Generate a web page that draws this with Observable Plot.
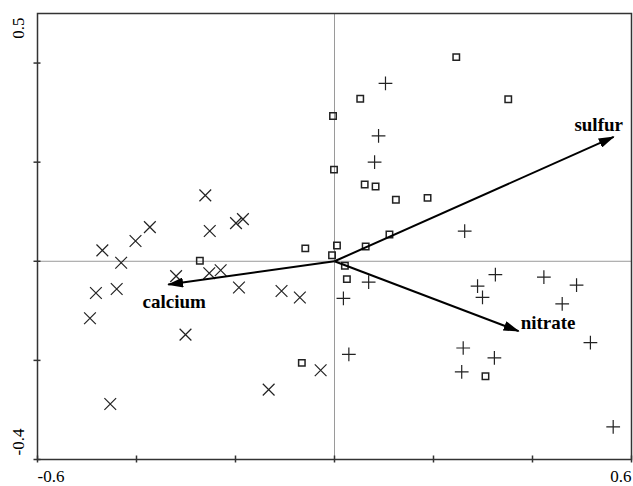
<!DOCTYPE html>
<html>
<head>
<meta charset="utf-8">
<script src="https://cdn.jsdelivr.net/npm/d3@7"></script>
<script src="https://cdn.jsdelivr.net/npm/@observablehq/plot@0.6"></script>
<style>
  html, body { margin: 0; padding: 0; background: #fff; }
  #chart svg { display: block; }
  #chart svg text { font-family: "Liberation Serif", "Times New Roman", serif; }
</style>
</head>
<body>
<div id="chart"></div>
<script>
// Site scores (axis 1, axis 2) by group
const crossX = [-0.261, -0.373, -0.402, -0.469, -0.431, -0.252, -0.199, -0.185, -0.320, -0.253, -0.230, -0.193, -0.440, -0.482, -0.494, -0.107, -0.070, -0.028, -0.133, -0.301, -0.453];
const crossY = [0.133, 0.069, 0.041, 0.022, -0.003, 0.061, 0.077, 0.085, -0.030, -0.024, -0.018, -0.053, -0.056, -0.064, -0.115, -0.060, -0.073, -0.220, -0.259, -0.148, -0.288];

const squareX = [0.246, 0.351, 0.052, -0.003, -0.001, 0.061, 0.083, 0.124, 0.188, 0.111, 0.063, 0.005, -0.059, -0.005, 0.021, 0.025, -0.066, 0.305, -0.272];
const squareY = [0.412, 0.327, 0.328, 0.293, 0.185, 0.155, 0.151, 0.124, 0.128, 0.054, 0.030, 0.032, 0.026, 0.012, -0.009, -0.036, -0.205, -0.232, 0.001];

const plusX = [0.103, 0.089, 0.081, 0.263, 0.325, 0.423, 0.489, 0.289, 0.299, 0.460, 0.517, 0.260, 0.323, 0.257, 0.563, 0.069, 0.018, 0.029];
const plusY = [0.359, 0.253, 0.200, 0.061, -0.027, -0.032, -0.048, -0.050, -0.073, -0.086, -0.164, -0.175, -0.195, -0.223, -0.334, -0.042, -0.075, -0.188];

// Environmental vectors
const envNames = ["sulfur", "nitrate", "calcium"];
const envX = [0.564, 0.372, -0.336];
const envY = [0.251, -0.141, -0.047];

// Axis tick values and labels
const xTicks = [-0.6, -0.4, -0.2, 0, 0.2, 0.4, 0.6];
const yTicks = [-0.4, -0.2, 0, 0.2, 0.4];
const xTickLabels = [-0.6, 0.6];
const yTickLabels = [-0.4, 0.5];

const pts = (xs, ys) => xs.map((x, i) => ({x, y: ys[i]}));
const crosses = pts(crossX, crossY);
const squares = pts(squareX, squareY);
const pluses = pts(plusX, plusY);
const env = envNames.map((name, i) => ({name, x: envX[i], y: envY[i]}));

const font = "Liberation Serif";
const axisColor = "#333";

const chart = Plot.plot({
  width: 633,
  height: 486,
  marginLeft: 37,
  marginTop: 13,
  marginRight: 2,
  marginBottom: 27,
  style: {fontFamily: font, background: "#fff", color: "#000"},
  x: {domain: [-0.6, 0.6], axis: null},
  y: {domain: [-0.4, 0.5], axis: null},
  marks: [
    // zero reference lines
    Plot.ruleX([0], {stroke: "#9a9a9a", strokeWidth: 1}),
    Plot.ruleY([0], {stroke: "#9a9a9a", strokeWidth: 1}),
    // frame
    Plot.frame({stroke: axisColor, strokeWidth: 1.5}),
    // ticks crossing the bottom and left axis lines
    Plot.ruleX(xTicks, {x: d => d, y1: -0.4, y2: -0.4, insetTop: -3.5, insetBottom: -3.5, stroke: axisColor, strokeWidth: 1.5}),
    Plot.ruleY(yTicks, {y: d => d, x1: -0.6, x2: -0.6, insetLeft: -3.5, insetRight: -3.5, stroke: axisColor, strokeWidth: 1.5}),
    // tick labels
    Plot.text(xTickLabels.filter(d => d < 0), {x: d => d, y: -0.4, text: d => String(d), textAnchor: "start", dy: 17.5, fontSize: 17, fontFamily: font, fill: "#000"}),
    Plot.text(xTickLabels.filter(d => d > 0), {x: d => d, y: -0.4, text: d => String(d), textAnchor: "end", dy: 17.5, fontSize: 17, fontFamily: font, fill: "#000"}),
    Plot.text(yTickLabels.filter(d => d > 0), {x: -0.6, y: d => d, text: d => String(d), rotate: -90, textAnchor: "end", dx: -18.5, dy: 4, fontSize: 17, fontFamily: font, fill: "#000"}),
    Plot.text(yTickLabels.filter(d => d < 0), {x: -0.6, y: d => d, text: d => String(d), rotate: -90, textAnchor: "start", dx: -18.5, dy: -4, fontSize: 17, fontFamily: font, fill: "#000"}),
    // sites
    Plot.dot(crosses, {x: "x", y: "y", symbol: "times", r: 5.4, stroke: "#222", strokeWidth: 1.2, fill: "none"}),
    Plot.dot(pluses, {x: "x", y: "y", symbol: "plus", r: 4.5, stroke: "#222", strokeWidth: 1.2, fill: "none"}),
    Plot.dot(squares, {x: "x", y: "y", symbol: "square2", r: 4.1, stroke: "#222", strokeWidth: 1.5, fill: "none"}),
    // environmental arrows
    Plot.link(env, {x1: () => 0, y1: () => 0, x2: "x", y2: "y", stroke: "#000", strokeWidth: 2}),
    // labels
    Plot.text(env.filter(d => d.name === "sulfur"), {x: "x", y: "y", text: "name", dx: -15, dy: -12, fontSize: 19, fontWeight: "bold", fontFamily: font, fill: "#000"}),
    Plot.text(env.filter(d => d.name === "nitrate"), {x: "x", y: "y", text: "name", textAnchor: "start", dx: 2, dy: -8, fontSize: 19, fontWeight: "bold", fontFamily: font, fill: "#000"}),
    Plot.text(env.filter(d => d.name === "calcium"), {x: "x", y: "y", text: "name", dx: 6, dy: 17.5, fontSize: 19, fontWeight: "bold", fontFamily: font, fill: "#000"})
  ]
});

// Filled triangular arrowheads on the environmental vectors
const svg = d3.select(chart);
const defs = svg.insert("defs", ":first-child");
defs.append("marker")
  .attr("id", "head")
  .attr("viewBox", "0 0 16 10")
  .attr("refX", 15)
  .attr("refY", 5)
  .attr("markerUnits", "userSpaceOnUse")
  .attr("markerWidth", 16)
  .attr("markerHeight", 10)
  .attr("orient", "auto")
  .append("path")
  .attr("d", "M0,0L16,5L0,10Z")
  .attr("fill", "#000");
svg.selectAll("g[aria-label='link'] path, g[aria-label='link'] line")
  .attr("marker-end", "url(#head)");

document.getElementById("chart").appendChild(chart);
</script>
</body>
</html>
